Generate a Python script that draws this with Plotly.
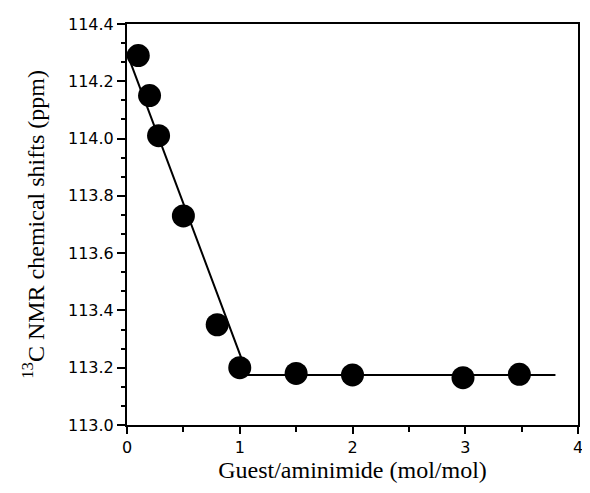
import plotly.graph_objects as go

guest_ratio = [0.1, 0.2, 0.28, 0.5, 0.8, 1.0, 1.5, 2.0, 2.98, 3.48]
shift_ppm = [114.29, 114.15, 114.01, 113.73, 113.35, 113.20, 113.18, 113.175, 113.165, 113.177]

fit_x = [-0.03, 1.07, 3.8]
fit_y = [114.33, 113.175, 113.175]

x_ticks = [0, 1, 2, 3, 4]
y_ticks = [113.0, 113.2, 113.4, 113.6, 113.8, 114.0, 114.2, 114.4]

fig = go.Figure()
fig.add_trace(go.Scatter(x=fit_x, y=fit_y, mode="lines",
                         line=dict(color="black", width=2), showlegend=False,
                         cliponaxis=False))
fig.add_trace(go.Scatter(x=guest_ratio, y=shift_ppm, mode="markers",
                         marker=dict(color="black", size=23), showlegend=False,
                         cliponaxis=False))

tickfont = dict(family="DejaVu Sans", size=16, color="black")
titlefont = dict(family="Liberation Serif", size=24, color="black")

# page body has an 8px margin, so the figure is drawn 8px in from the top-left
fig.update_layout(
    width=582, height=485,
    margin=dict(l=119, r=7, t=11, b=68),
    paper_bgcolor="white", plot_bgcolor="white",
    xaxis=dict(range=[0, 4], tickvals=x_ticks, ticktext=[str(v) for v in x_ticks],
               showgrid=False, zeroline=False, showline=True, linecolor="black",
               linewidth=2, mirror=True, ticks="outside", ticklen=7, tickwidth=2,
               tickcolor="black", tickfont=tickfont,
               minor=dict(dtick=0.5, ticks="outside", ticklen=5, tickwidth=2,
                          tickcolor="black", showgrid=False),
               title=dict(text="Guest/aminimide (mol/mol)", font=titlefont, standoff=2)),
    yaxis=dict(range=[113.0, 114.4], tickvals=y_ticks,
               ticktext=[f"{v:.1f}" for v in y_ticks],
               showgrid=False, zeroline=False, showline=True, linecolor="black",
               linewidth=2, mirror=True, ticks="outside", ticklen=8, tickwidth=2,
               tickcolor="black", tickfont=tickfont,
               minor=dict(tick0=113.0, dtick=0.2 / 3, ticks="outside", ticklen=4,
                          tickwidth=2, tickcolor="black", showgrid=False),
               title=dict(text="<sup>13</sup>C NMR chemical shifts (ppm)",
                          font=titlefont, standoff=17)),
)

fig.write_html("out.html")
